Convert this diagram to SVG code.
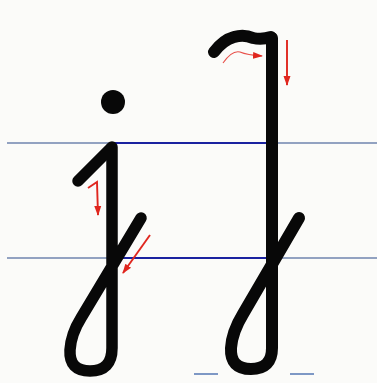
<svg xmlns="http://www.w3.org/2000/svg" width="377" height="383" viewBox="0 0 377 383">
<style>
.ink{fill:none;stroke:#080808;stroke-width:11.5;stroke-linecap:round;stroke-linejoin:round}
.ink-big{fill:none;stroke:#080808;stroke-width:12;stroke-linecap:round;stroke-linejoin:round}
.guide{stroke:#6f84ae;stroke-width:1.4}
.guide-dark{stroke:#1a22a0;stroke-width:1.8}
.dash{stroke:#5f7fb8;stroke-width:1.6}
.arrow{fill:none;stroke:#e0261e;stroke-width:1.9}
.arrow-thin{fill:none;stroke:#e8504a;stroke-width:1.1}
</style>
<defs>
<marker id="ah" viewBox="0 0 10 10" refX="9" refY="5" markerWidth="10" markerHeight="10" markerUnits="userSpaceOnUse" orient="auto">
<path d="M0,1.5 L10,5 L0,8.5 Z" fill="#e0261e"/>
</marker>
<marker id="ahs" viewBox="0 0 10 10" refX="9" refY="5" markerWidth="10" markerHeight="10" markerUnits="userSpaceOnUse" orient="auto">
<path d="M0,1.5 L10,5 L0,8.5 Z" fill="#e0261e"/>
</marker>
</defs>
<rect width="377" height="383" fill="#fbfbf9"/>
<g id="guides">
<line class="guide" x1="7" y1="143" x2="377" y2="143"/>
<line class="guide-dark" x1="110" y1="143" x2="268" y2="143"/>
<line class="guide" x1="7" y1="258" x2="377" y2="258"/>
<line class="guide-dark" x1="118" y1="258" x2="266" y2="258"/>
<line class="dash" x1="194" y1="374" x2="218" y2="374"/>
<line class="dash" x1="290" y1="374" x2="314" y2="374"/>
</g>
<g id="letter-j">
<circle cx="113" cy="102" r="12" fill="#080808"/>
<path class="ink" d="M78,181 L111,148"/>
<path class="ink" d="M112,147 L112,348 Q112,371 90,371 Q69,371 70,350 Q71,334 81,318 L141,218"/>
</g>
<g id="letter-J">
<path class="ink-big" d="M214,52 Q223,40 234,37 Q244,34 253,38 Q262,40 271,37"/>
<path class="ink-big" d="M272,38 L272,348 Q272,369 251,369 Q230,369 231,348 Q232,332 243,314 L299,218"/>
</g>
<g id="arrows">
<path class="arrow" d="M88,188 L97,182 L98,215" marker-end="url(#ah)"/>
<path class="arrow" d="M150,235 L123,273" marker-end="url(#ah)"/>
<path class="arrow-thin" d="M223,63 Q232,50 240,52 Q247,55 262,56" marker-end="url(#ahs)"/>
<path class="arrow" d="M287,40 L287,85" marker-end="url(#ah)"/>
</g>
</svg>
